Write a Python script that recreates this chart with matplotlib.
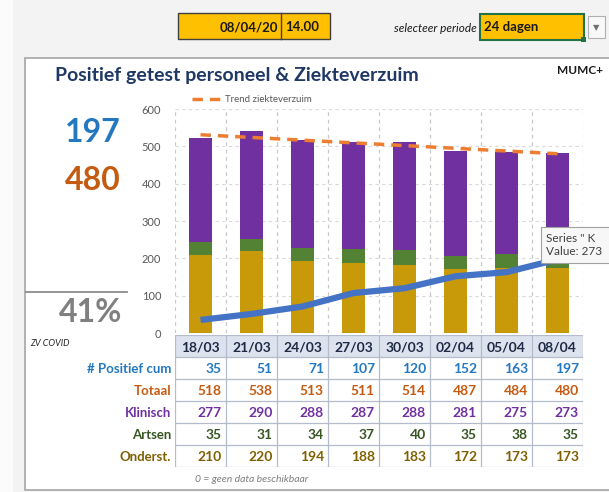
import numpy as np
import matplotlib
matplotlib.use("Agg")
import matplotlib.pyplot as plt
from matplotlib.patches import Rectangle
from matplotlib.lines import Line2D

plt.rcParams['font.family'] = ['Lato', 'DejaVu Sans']

# -----------------------------------------------------------------------------
# Data
# -----------------------------------------------------------------------------
dates = ['18/03', '21/03', '24/03', '27/03', '30/03', '02/04', '05/04', '08/04']
positief_cum = [35, 51, 71, 107, 120, 152, 163, 197]
totaal = [518, 538, 513, 511, 514, 487, 484, 480]
klinisch = [277, 290, 288, 287, 288, 281, 275, 273]
artsen = [35, 31, 34, 37, 40, 35, 38, 35]
onderst = [210, 220, 194, 188, 183, 172, 173, 173]
row_labels = ['# Positief cum', 'Totaal', 'Klinisch', 'Artsen', 'Onderst.']
yticks = [0, 100, 200, 300, 400, 500, 600]
pct_covid = '41%'

C_BLUE = '#2478C0'
C_LINE = '#4472C4'
C_ORANGE = '#C55A11'
C_TREND = '#ED7D31'
C_PURPLE = '#7030A0'
C_GREEN = '#548235'
C_GOLD = '#C89A0A'
C_ARTS = '#375623'
C_ONDER = '#7F6000'

W, H = 609, 492


def fx(x):
    return x / W


def fy(y):
    return 1 - y / H


fig = plt.figure(figsize=(W / 100, H / 100), dpi=100, facecolor='#F3F3F3')

# background strip + panel
fig.patches.append(Rectangle((0, 0), fx(13), 1, transform=fig.transFigure,
                             facecolor='#FBFBFB', edgecolor='none', zorder=-3))
fig.patches.append(Rectangle((fx(25), fy(490)), fx(600), (490 - 58) / H,
                             transform=fig.transFigure, facecolor='white',
                             edgecolor='#A6A6A6', lw=1.2, zorder=-2))

# -----------------------------------------------------------------------------
# Header controls
# -----------------------------------------------------------------------------
fig.patches.append(Rectangle((fx(178), fy(39)), fx(152), 26 / H, transform=fig.transFigure,
                             facecolor='#FFC000', edgecolor='#404040', lw=1, zorder=1))
fig.add_artist(Line2D([fx(281), fx(281)], [fy(39), fy(13)], color='#404040', lw=1))
fig.text(fx(278), fy(27), '08/04/20', ha='right', va='center', fontsize=9.5,
         fontweight='bold', color='#1a1a1a')
fig.text(fx(285), fy(27), '14.00', ha='left', va='center', fontsize=9.5,
         fontweight='bold', color='#1a1a1a')
fig.text(fx(477), fy(28), 'selecteer periode', ha='right', va='center', fontsize=8.5,
         style='italic', color='#1a1a1a')
fig.patches.append(Rectangle((fx(480), fy(40)), fx(104), 26 / H, transform=fig.transFigure,
                             facecolor='#FFC000', edgecolor='#217346', lw=1.5, zorder=1))
fig.patches.append(Rectangle((fx(581), fy(42)), fx(5), 5 / H, transform=fig.transFigure,
                             facecolor='#217346', edgecolor='none', zorder=2))
fig.text(fx(484), fy(27), '24 dagen', ha='left', va='center', fontsize=9.5,
         fontweight='bold', color='#1a1a1a')
fig.patches.append(Rectangle((fx(588), fy(38)), fx(17), 22 / H, transform=fig.transFigure,
                             facecolor='#F8F8F8', edgecolor='#B0B0B0', lw=0.8, zorder=1))
fig.text(fx(596.5), fy(28), '▼', ha='center', va='center', fontsize=6,
         color='#707070', family='DejaVu Sans')

# -----------------------------------------------------------------------------
# Title + KPIs
# -----------------------------------------------------------------------------
fig.text(fx(55), fy(75), 'Positief getest personeel & Ziekteverzuim', ha='left',
         va='center', fontsize=14, fontweight='bold', color='#1F3864')
fig.text(fx(603), fy(71), 'MUMC+', ha='right', va='center', fontsize=8.5,
         fontweight='bold', color='#1a1a1a')

fig.text(fx(121), fy(133), str(positief_cum[-1]), ha='right', va='center',
         fontsize=23, fontweight='bold', color=C_BLUE)
fig.text(fx(121), fy(180), str(totaal[-1]), ha='right', va='center',
         fontsize=23, fontweight='bold', color=C_ORANGE)
fig.add_artist(Line2D([fx(26), fx(127)], [fy(292), fy(292)], color='#8C8C8C', lw=1.3))
fig.text(fx(122), fy(313), pct_covid, ha='right', va='center',
         fontsize=23, fontweight='bold', color='#808080')
fig.text(fx(30), fy(343), 'ZV COVID', ha='left', va='center',
         fontsize=6.5, style='italic', color='#262626')

# -----------------------------------------------------------------------------
# Chart
# -----------------------------------------------------------------------------
ax = fig.add_axes([fx(175), fy(333), fx(583 - 175), (333 - 109) / H])
ax.set_facecolor('none')
x = np.arange(len(dates))
bw = 0.47
ax.bar(x, onderst, bw, color=C_GOLD, zorder=2)
ax.bar(x, artsen, bw, bottom=onderst, color=C_GREEN, zorder=2)
ax.bar(x, klinisch, bw, bottom=np.array(onderst) + np.array(artsen), color=C_PURPLE, zorder=2)
ax.plot(x, positief_cum, color=C_LINE, lw=4.5, solid_capstyle='butt', zorder=3)

coef = np.polyfit(x, totaal, 1)
trend, = ax.plot(x, np.polyval(coef, x), color=C_TREND, lw=2.5, ls=(0, (3, 2)), zorder=4)

ax.set_xlim(-0.5, len(dates) - 0.5)
ax.set_ylim(0, 600)
ax.set_yticks(yticks)
ax.set_xticks([])
ax.set_xticks(np.arange(-0.5, len(dates)), minor=True)
ax.tick_params(axis='y', length=0, pad=10, labelsize=8, labelcolor='#595959')
ax.tick_params(axis='x', which='minor', length=0)
ax.grid(axis='y', color='#D9D9D9', ls=(0, (3, 3)), lw=0.8, zorder=0)
ax.grid(axis='x', which='minor', color='#C8C8C8', ls=(0, (3, 3)), lw=0.9, zorder=0)
for s in ax.spines.values():
    s.set_visible(False)

fig.legend([trend], ['Trend ziekteverzuim'], loc='center left',
           bbox_to_anchor=(fx(192), fy(100)), frameon=False, fontsize=7,
           labelcolor='#595959', handlelength=3.2, handletextpad=0.2,
           borderpad=0, borderaxespad=0)

# tooltip (cut off by the screenshot edge)
fig.patches.append(Rectangle((fx(541), fy(263)), fx(80), 36 / H, transform=fig.transFigure,
                             facecolor='#F7F7F7', edgecolor='#A0A0A0', lw=0.8, zorder=8))
fig.text(fx(546), fy(245), 'Series " K\nValue: 273', ha='left', va='center',
         fontsize=8.5, color='#404040', linespacing=1.3, zorder=10)

# -----------------------------------------------------------------------------
# Table
# -----------------------------------------------------------------------------
tax = fig.add_axes([fx(175), fy(467), fx(583 - 175), (467 - 335) / H])
tax.set_xlim(-0.5, len(dates) - 0.5)
tax.set_ylim(len(row_labels) + 1, 0)
tax.axis('off')

tax.add_patch(Rectangle((-0.5, 0), len(dates), 1, facecolor='#DCE3EF', edgecolor='none'))
for i in range(len(dates) + 1):
    tax.plot([i - 0.5, i - 0.5], [0, len(row_labels) + 1], color='#B4BCCB', lw=0.9)
for j in range(len(row_labels) + 2):
    tax.plot([-0.5, len(dates) - 0.5], [j, j], color='#B4BCCB', lw=0.9)

for i, d in enumerate(dates):
    tax.text(i, 0.55, d, ha='center', va='center', fontsize=10, fontweight='bold',
             color='#1F2A44')

rows = [positief_cum, totaal, klinisch, artsen, onderst]
colors = [C_BLUE, C_ORANGE, C_PURPLE, C_ARTS, C_ONDER]
for j, (lab, vals, c) in enumerate(zip(row_labels, rows, colors)):
    yy = j + 1.55
    tax.text(-0.58, yy, lab, ha='right', va='center', fontsize=9.5,
             fontweight='bold', color=c, clip_on=False)
    for i, v in enumerate(vals):
        tax.text(i + 0.42, yy, str(v), ha='right', va='center', fontsize=10,
                 fontweight='bold', color=c)

fig.text(fx(195), fy(479), '0 = geen data beschikbaar', ha='left', va='center',
         fontsize=7.5, style='italic', color='#7F7F7F')

fig.savefig('out.png', dpi=100, facecolor=fig.get_facecolor())
